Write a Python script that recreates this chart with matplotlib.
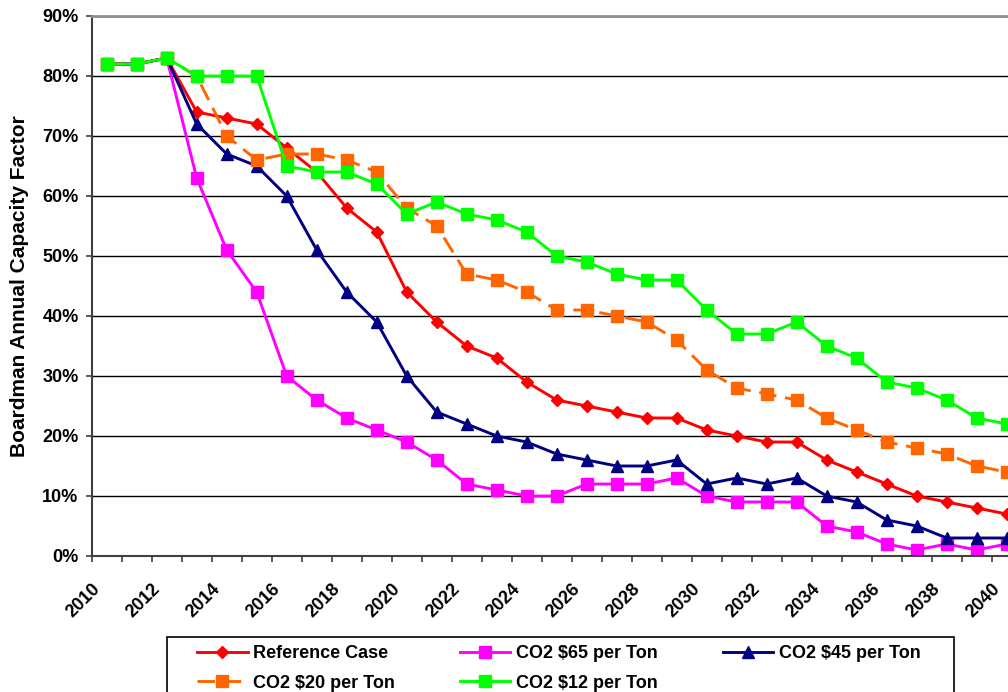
import numpy as np
import matplotlib
matplotlib.use("Agg")
import matplotlib.pyplot as plt
from matplotlib.ticker import MultipleLocator, FuncFormatter
from matplotlib.patches import Rectangle

plt.rcParams['font.family'] = ['Liberation Sans', 'DejaVu Sans']
plt.rcParams['font.weight'] = 'bold'

# data points sit in the middle of each year category
years = np.arange(2010, 2041) + 0.5

reference = [82, 82, 83, 74, 73, 72, 68, 64, 58, 54, 44, 39, 35, 33, 29, 26,
             25, 24, 23, 23, 21, 20, 19, 19, 16, 14, 12, 10, 9, 8, 7]
co2_65 = [82, 82, 83, 63, 51, 44, 30, 26, 23, 21, 19, 16, 12, 11, 10, 10,
          12, 12, 12, 13, 10, 9, 9, 9, 5, 4, 2, 1, 2, 1, 2]
co2_45 = [82, 82, 83, 72, 67, 65, 60, 51, 44, 39, 30, 24, 22, 20, 19, 17,
          16, 15, 15, 16, 12, 13, 12, 13, 10, 9, 6, 5, 3, 3, 3]
co2_20 = [82, 82, 83, 80, 70, 66, 67, 67, 66, 64, 58, 55, 47, 46, 44, 41,
          41, 40, 39, 36, 31, 28, 27, 26, 23, 21, 19, 18, 17, 15, 14]
co2_12 = [82, 82, 83, 80, 80, 80, 65, 64, 64, 62, 57, 59, 57, 56, 54, 50,
          49, 47, 46, 46, 41, 37, 37, 39, 35, 33, 29, 28, 26, 23, 22]

W, H = 1008, 692
fig = plt.figure(figsize=(W / 100, H / 100), dpi=100)
ax = fig.add_axes([91.7 / W, 1 - 556 / H, 930 / W, 540 / H])

lw = 2.1
l1, = ax.plot(years, reference, color='#FF0000', lw=lw, marker='D', ms=6,
              label='Reference Case')
l2, = ax.plot(years, co2_65, color='#FF00FF', lw=lw, marker='s', ms=8.5,
              label='CO2 $65 per Ton')
l3, = ax.plot(years, co2_45, color='#000080', lw=lw, marker='^', ms=9,
              label='CO2 $45 per Ton')
l4, = ax.plot(years, co2_20, color='#FF6600', lw=lw, marker='s', ms=8.5,
              ls=(0, (6, 3)), label='CO2 $20 per Ton')
l5, = ax.plot(years, co2_12, color='#00FF00', lw=lw, marker='s', ms=8.5,
              label='CO2 $12 per Ton')

ax.set_xlim(2010, 2041)
ax.set_ylim(0, 90)
ax.yaxis.set_major_locator(MultipleLocator(10))
ax.yaxis.set_major_formatter(FuncFormatter(lambda v, p: f"{int(round(v))}%"))
ax.xaxis.set_major_locator(MultipleLocator(1))
ax.xaxis.set_major_formatter(FuncFormatter(
    lambda v, p: f"{int(round(v))}" if int(round(v)) % 2 == 0 and v <= 2040 else ""))

ax.yaxis.grid(True, color='black', lw=1)
ax.set_axisbelow(True)
ax.tick_params(axis='both', direction='out', length=4.5, width=1.2,
               color='#404040', labelsize=13)
ax.tick_params(axis='y', pad=5)
ax.tick_params(axis='x', pad=13)
plt.setp(ax.get_xticklabels(), rotation=45, ha='right', va='top',
         rotation_mode='anchor', fontweight='bold')
plt.setp(ax.get_yticklabels(), fontweight='bold')

for s in ['left', 'bottom']:
    ax.spines[s].set_color('#404040')
    ax.spines[s].set_linewidth(1.5)
ax.spines['right'].set_visible(False)
ax.spines['top'].set_color('#909090')
ax.spines['top'].set_linewidth(2)

fig.text(20 / W, 1 - 286 / H, 'Boardman Annual Capacity Factor', rotation=90,
         ha='center', va='center', fontsize=15, fontweight='bold')

# legend frame (bottom is cut off by the image edge)
fig.patches.append(Rectangle((167 / W, -0.05), (954 - 167) / W, 1 - 637 / H + 0.05,
                             transform=fig.transFigure, facecolor='white',
                             edgecolor='black', lw=1.2, zorder=0))
fig.legend([l1, l4, l2, l5, l3],
           [l1.get_label(), l4.get_label(), l2.get_label(), l5.get_label(), l3.get_label()],
           loc='upper left', bbox_to_anchor=(197 / W, 1 - 645 / H),
           ncol=3, frameon=False, borderpad=0, borderaxespad=0,
           handlelength=2.8, handletextpad=0.3, columnspacing=3.6,
           labelspacing=0.7, prop={'size': 13, 'weight': 'bold'})

fig.savefig('out.png', dpi=100)
